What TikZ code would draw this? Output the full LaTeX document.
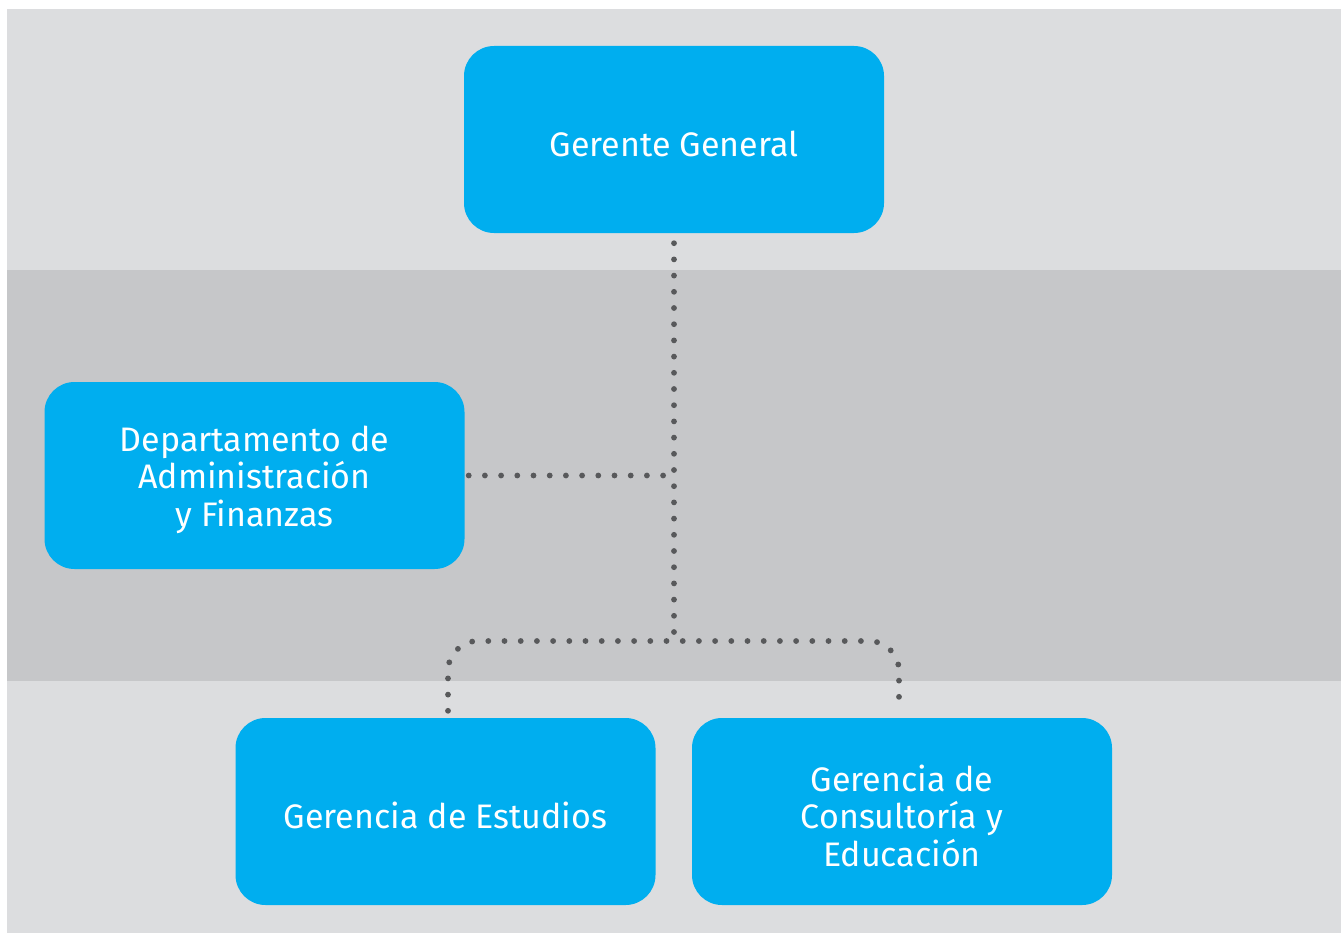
\documentclass[tikz,border=0pt]{standalone}
\usepackage{fontspec}
\setmainfont{Fira Sans}
\definecolor{bglight}{HTML}{DCDDDF}
\definecolor{bgdark}{HTML}{C6C7C9}
\definecolor{boxblue}{HTML}{00AEEF}
\definecolor{dotgray}{HTML}{58595B}
\begin{document}
\begin{tikzpicture}[x=1pt,y=-1pt,
  boxtext/.style={text=white, align=center, font=\fontsize{34}{37.5}\selectfont, inner sep=0pt, yshift=-4pt},
  orgbox/.style={fill=boxblue, rounded corners=30pt, minimum width=420pt, minimum height=187pt,
    inner sep=0pt, label={[boxtext]center:{#1}}},
  dotline/.style={draw=dotgray, line width=5.8pt, line cap=round, dash pattern=on 0pt off 16.2pt}]
\useasboundingbox (0,0) rectangle (1343,934);
\fill[white] (0,0) rectangle (1343,934);
\fill[bglight] (7,9) rectangle (1341,270);
\fill[bgdark] (7,270) rectangle (1341,681);
\fill[bglight] (7,681) rectangle (1341,933);
\node[orgbox={Gerente General}] (gg) at (674,139.5) {};
\node[orgbox={Departamento de\\Administración\\y Finanzas}] (daf) at (254.5,475.5) {};
\node[orgbox={Gerencia de Estudios}] (ges) at (445.5,811.5) {};
\node[orgbox={Gerencia de\\Consultoría y\\Educación}] (gce) at (902,811.5) {};
\coordinate (j1) at (gg.south |- daf.east);
\coordinate (j2) at (674,641);
\draw[dotline] ([yshift=-10pt]gg.south) -- (j2);
\draw[dotline] ([xshift=4pt]daf.east) -- (j1);
\draw[dotline, rounded corners=30pt] ([xshift=2.5pt,yshift=7pt]ges.north) |- (j2) -| ([xshift=-3pt,yshift=7pt]gce.north);
\end{tikzpicture}
\end{document}
